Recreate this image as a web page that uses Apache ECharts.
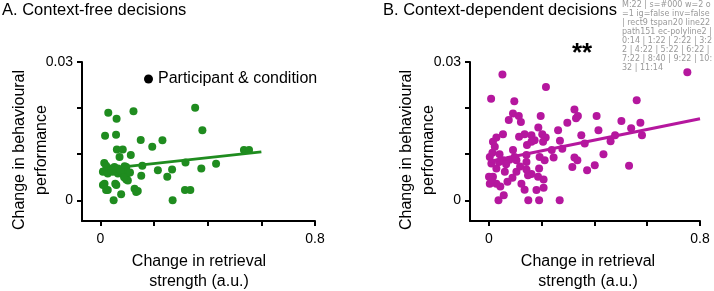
<!DOCTYPE html>
<html>
<head>
<meta charset="utf-8">
<script src="https://cdn.jsdelivr.net/npm/echarts@6/dist/echarts.min.js"></script>
<style>
html, body { margin: 0; padding: 0; background: #fff; }
#chart { width: 714px; height: 291px; }
.hidden { position: absolute; left: -3000px; top: 0; width: 714px; height: 291px; }
#diag { position: absolute; left: 622px; top: 0; width: 92px; font: 8px/9px 'DejaVu Sans'; color: #999; word-break: break-all; }
</style>
</head>
<body>
<div id="chart"></div>
<div id="diag"></div>
<script>
// A. context-free decisions: [retrieval change, behaviour change]
var pointsA = [
    [0.029, 0.0190], [0.060, 0.0177], [0.123, 0.0193], [0.353, 0.0201], [0.380, 0.0152],
    [0.017, 0.0140], [0.058, 0.0142], [0.150, 0.0131], [0.231, 0.0130], [0.193, 0.0116],
    [0.061, 0.0110], [0.083, 0.0110], [0.071, 0.0094], [0.113, 0.0098], [0.014, 0.0081],
    [0.535, 0.0109], [0.554, 0.0109], [0.156, 0.0075], [0.214, 0.0065], [0.267, 0.0067],
    [0.317, 0.0082], [0.376, 0.0069], [0.431, 0.0079], [0.249, 0.0051], [0.152, 0.0053],
    [0.315, 0.0022], [0.335, 0.0022], [0.269, 0.0000], [0.049, 0.0000],
    [0.034, 0.0069], [0.052, 0.0072], [0.090, 0.0074], [0.009, 0.0062], [0.027, 0.0058],
    [0.046, 0.0062], [0.065, 0.0058], [0.100, 0.0058], [0.015, 0.0036], [0.055, 0.0036],
    [0.096, 0.0045], [0.027, 0.0022], [0.077, 0.0013], [0.127, 0.0025], [0.139, 0.0020],
    [0.065, 0.0069], [0.083, 0.0058], [0.096, 0.0072], [0.102, 0.0043], [0.059, 0.0033],
    [0.021, 0.0022], [0.009, 0.0033], [0.133, 0.0018], [0.021, 0.0075], [0.040, 0.0065],
    [0.075, 0.0064], [0.088, 0.0050], [0.110, 0.0060]
]
var fitA = [[0, 0.0067], [0.6, 0.0105]]

// B. context-dependent decisions
var pointsB = [
    [0.051, 0.0273], [0.752, 0.0278], [0.216, 0.0246], [0.008, 0.0220], [0.096, 0.0215],
    [0.560, 0.0217], [0.091, 0.0188], [0.113, 0.0183], [0.075, 0.0174], [0.121, 0.0170],
    [0.196, 0.0183], [0.324, 0.0197], [0.330, 0.0178], [0.337, 0.0183], [0.408, 0.0183],
    [0.502, 0.0172], [0.574, 0.0168], [0.297, 0.0168], [0.187, 0.0158], [0.262, 0.0152],
    [0.415, 0.0152], [0.539, 0.0156], [0.580, 0.0141], [0.478, 0.0141], [0.461, 0.0128],
    [0.350, 0.0141], [0.363, 0.0123], [0.269, 0.0129], [0.278, 0.0112], [0.238, 0.0109],
    [0.245, 0.0093], [0.324, 0.0093], [0.335, 0.0087], [0.434, 0.0100], [0.316, 0.0072],
    [0.372, 0.0065], [0.401, 0.0076], [0.531, 0.0075], [0.268, 0.0000], [0.149, 0.0000],
    [0.190, 0.0000], [0.036, 0.0000], [0.056, 0.0011], [0.207, 0.0027], [0.180, 0.0022],
    [0.135, 0.0023], [0.123, 0.0036], [0.207, 0.0045], [0.186, 0.0051], [0.161, 0.0057],
    [0.148, 0.0054], [0.089, 0.0049], [0.043, 0.0030], [0.028, 0.0036], [0.003, 0.0036],
    [0.000, 0.0051], [0.015, 0.0051], [0.190, 0.0069], [0.142, 0.0067], [0.104, 0.0062],
    [0.060, 0.0062], [0.028, 0.0069], [0.009, 0.0080], [0.038, 0.0083], [0.053, 0.0087],
    [0.078, 0.0088], [0.104, 0.0087], [0.142, 0.0083], [0.192, 0.0094], [0.211, 0.0087],
    [0.003, 0.0094], [0.013, 0.0103], [0.022, 0.0116], [0.015, 0.0127], [0.028, 0.0136],
    [0.053, 0.0143], [0.091, 0.0109], [0.097, 0.0094], [0.142, 0.0098], [0.114, 0.0138],
    [0.135, 0.0143], [0.161, 0.0141], [0.173, 0.0130], [0.161, 0.0127], [0.202, 0.0143],
    [0.215, 0.0136], [0.205, 0.0127], [0.144, 0.0120], [0.040, 0.0100], [0.065, 0.0078],
    [0.118, 0.0073], [0.010, 0.0045], [0.070, 0.0040]
]
var fitB = [[0, 0.0084], [0.8, 0.0177]]

var xTicks = [0, 0.2, 0.4, 0.6, 0.8]
var xTickLabels = [0, 0.8]
var yTicks = [0, 0.01, 0.02, 0.03]
var yTickLabels = [0, 0.03]

var green = '#1f8c1f'
var magenta = '#b5179e'
var font = 'Liberation Sans, Helvetica, Arial, sans-serif'
var xName = 'Change in retrieval\nstrength (a.u.)'
var yName = 'Change in behavioural\nperformance'

function nameText(text, x, y, rotated) {
    return {
        type: 'text', x: x, y: y, rotation: rotated ? Math.PI / 2 : 0, silent: true,
        style: {
            text: text, fill: '#000', font: '16px ' + font, align: 'center',
            verticalAlign: rotated ? 'middle' : 'top', lineHeight: rotated ? 22 : 20
        }
    }
}

// f: switches used only by the hidden test copies below
function buildOption(f) {
    f = f || {}
    function axis(kind, idx, min) {
        var isX = kind === 'x'
        var o = {
            type: 'value', gridIndex: idx, min: min, max: isX ? 0.8 : 0.03,
            axisLine: { show: true, onZero: false, lineStyle: { color: '#000', width: 2 } },
            axisTick: { show: true },
            axisLabel: { fontSize: f.fs || 14, margin: f.fs ? 9 : (isX ? 11 : 9), fontFamily: font, color: '#000' }
        }
        if (!f.noSplit) o.splitLine = { show: false }
        if (!f.noTickCV) o.axisTick.customValues = f.fewTicks ? (isX ? [0, 0.4, 0.8] : [0, 0.03]) : (isX ? xTicks : yTicks).slice()
        if (!f.noTickStyle) { o.axisTick.length = 5; o.axisTick.lineStyle = { color: '#000', width: 2 } }
        if (!f.noLabelCV) o.axisLabel.customValues = (isX ? xTickLabels : yTickLabels).slice()
        if (!f.noFmt) o.axisLabel.formatter = function(v) { return v === 0 ? '0' : v.toFixed(isX ? 1 : 2) }
        return o
    }
    var grids = f.small
        ? [{ left: 50, top: 20, width: 150, height: 90 }, { left: 280, top: 20, width: 150, height: 90 }]
        : [{ left: 82, top: 62, width: 233, height: 159 }, { left: 470, top: 62, width: 230, height: 159 }]
    if (!f.noOB) { grids[0].outerBoundsMode = 'none'; grids[1].outerBoundsMode = 'none' }
    var opt = {
        animation: false,
        grid: grids,
        xAxis: [axis('x', 0, -0.069), axis('x', 1, -0.072)],
        yAxis: [axis('y', 0, -0.0045), axis('y', 1, -0.0045)]
    }
    if (f.plain) {
        opt.series = [
            { type: 'scatter', xAxisIndex: 0, yAxisIndex: 0, data: pointsA },
            { type: 'scatter', xAxisIndex: 1, yAxisIndex: 1, data: pointsB }
        ]
    } else {
        opt.series = [
            { name: 'Participant & condition', type: 'scatter', xAxisIndex: 0, yAxisIndex: 0, symbolSize: 8,
                itemStyle: { color: green, opacity: 1 }, data: pointsA },
            { type: 'line', xAxisIndex: 0, yAxisIndex: 0, symbol: 'none', silent: true,
                lineStyle: { color: green, width: 3 }, data: fitA },
            { name: 'B points', type: 'scatter', xAxisIndex: 1, yAxisIndex: 1, symbolSize: 8,
                itemStyle: { color: magenta, opacity: 1 }, data: pointsB },
            { type: 'line', xAxisIndex: 1, yAxisIndex: 1, symbol: 'none', silent: true,
                lineStyle: { color: magenta, width: 3 }, data: fitB }
        ]
    }
    if (!f.noDeco) {
        opt.title = [
            { text: 'A. Context-free decisions', left: 2, top: 2, padding: 0,
                textStyle: { fontSize: 16.5, fontWeight: 'normal', fontFamily: font, color: '#000' } },
            { text: 'B. Context-dependent decisions', left: 383, top: 2, padding: 0,
                textStyle: { fontSize: 16.5, fontWeight: 'normal', fontFamily: font, color: '#000' } },
            { text: '**', left: 582, top: 41, padding: 0, textAlign: 'center',
                textStyle: { fontSize: 26, fontWeight: 'bold', fontFamily: font, color: '#000' } }
        ]
        opt.legend = {
            data: [{ name: 'Participant & condition', icon: 'circle', itemStyle: { color: '#000' } }],
            left: 144, top: 71, padding: 0, itemWidth: 9, itemHeight: 9, selectedMode: false,
            textStyle: { fontSize: 16, fontFamily: font, color: '#000' }
        }
        opt.graphic = [
            nameText(yName, 31, 150, true),
            nameText(yName, 418, 150, true),
            nameText(xName, 199, 252, false),
            nameText(xName, 588, 252, false)
        ]
    }
    return opt
}

function lineInfo(chart) {
    var list = chart.getZr().storage.getDisplayList(true, true)
    var n = 0, first = null, types = {}
    list.forEach(function(el) {
        types[el.type] = (types[el.type] || 0) + 1
        if (el.type === 'line') { n++; if (!first) first = el }
    })
    return { n: n, first: first, types: types }
}

var myChart = echarts.init(document.getElementById('chart'))
var out = []
try {
    myChart.setOption(buildOption({}))
    var info = lineInfo(myChart)
    out.push('M:' + info.n)
    if (info.first) {
        var s = info.first.style
        out.push('s=' + s.stroke + ' w=' + s.lineWidth + ' o=' + s.opacity + ' ig=' + info.first.ignore + ' inv=' + info.first.invisible)
    }
    out.push(Object.keys(info.types).map(function(k) { return k + info.types[k] }).join(' '))
} catch (e) {
    out.push('ERR ' + e.message)
}

var variants = [
    { fewTicks: 1 }, { noTickStyle: 1 }, { fs: 12 }, { plain: 1 }, { noDeco: 1 }, { noOB: 1 },
    { small: 1 }, { noFmt: 1 }, { noSplit: 1 }, { noLabelCV: 1 }, { noTickCV: 1 },
    { fewTicks: 1, fs: 12, small: 1, plain: 1, noDeco: 1, noOB: 1 }
]
variants.forEach(function(f, i) {
    var d = document.createElement('div')
    d.className = 'hidden'
    document.body.appendChild(d)
    try {
        var c = echarts.init(d)
        c.setOption(buildOption(f))
        out.push(i + ':' + lineInfo(c).n)
    } catch (e) {
        out.push(i + ':E ' + e.message)
    }
})
document.getElementById('diag').textContent = out.join(' | ')

window.addEventListener('resize', function() {
    myChart.resize()
})
</script>
</body>
</html>
